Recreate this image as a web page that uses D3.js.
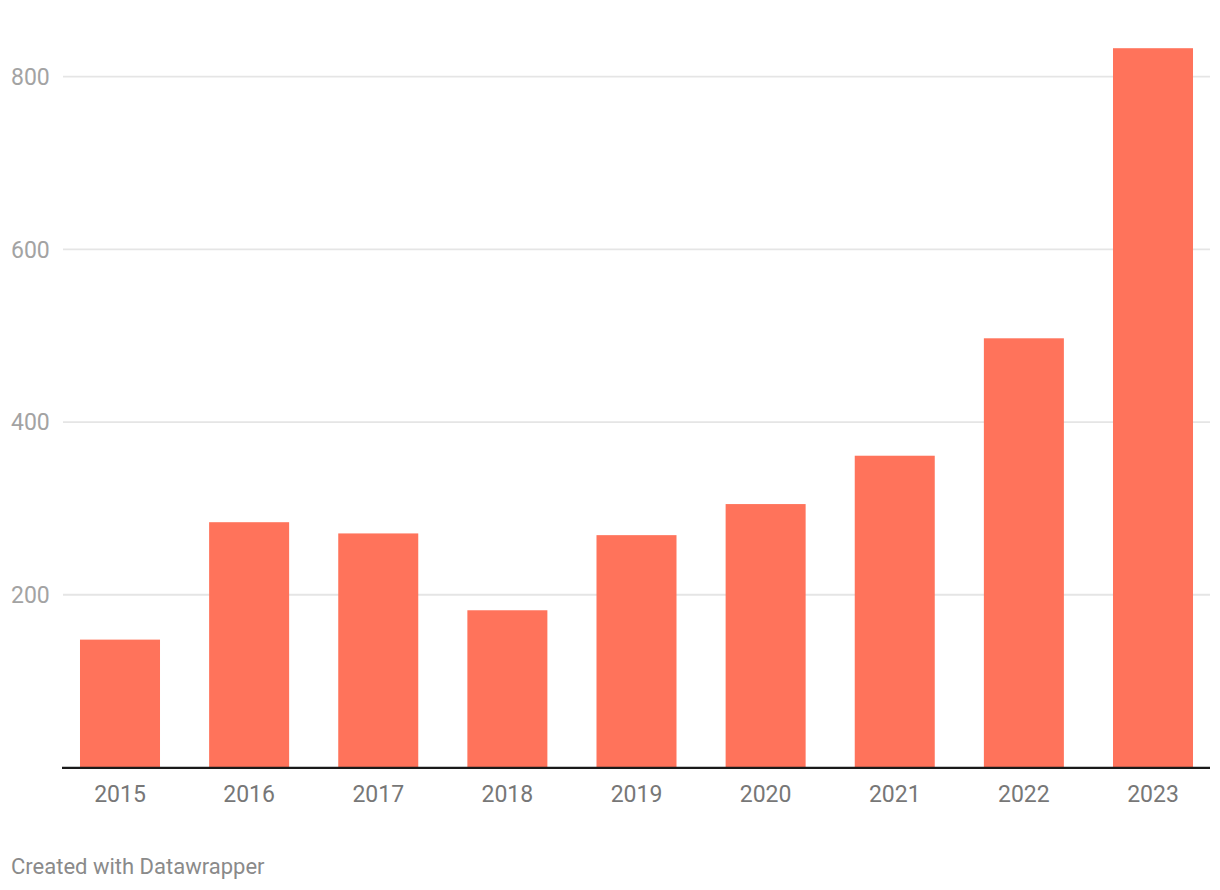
<!DOCTYPE html>
<html>
<head>
<meta charset="utf-8">
<script src="https://cdn.jsdelivr.net/npm/d3@7/dist/d3.min.js"></script>
<style>
  html, body { margin: 0; padding: 0; background: #fff; }
  svg { display: block; font-family: Roboto, "Noto Sans", sans-serif; }
</style>
</head>
<body>
<svg id="chart" width="1220" height="890"></svg>
<script>
const years = ["2015", "2016", "2017", "2018", "2019", "2020", "2021", "2022", "2023"];
const values = [148, 284, 271, 182, 269, 305, 361, 497, 833];
const yTicks = [200, 400, 600, 800];
const footer = "Created with Datawrapper";

const svg = d3.select("#chart");
const x = d3.scaleBand().domain(years).range([62.5, 1210.5]).paddingInner(0.3804).paddingOuter(0.1355);
const y = d3.scaleLinear().domain([0, 800]).range([767.4, 76.7]);

// gridlines
svg.append("g").selectAll("line").data(yTicks).join("line")
  .attr("x1", 63).attr("x2", 1210)
  .attr("y1", d => y(d)).attr("y2", d => y(d))
  .attr("stroke", "#e5e5e5").attr("stroke-width", 1.8);

// y labels
svg.append("g").selectAll("text").data(yTicks).join("text")
  .attr("x", 11).attr("y", d => y(d) + 8.3)
  .attr("font-size", 23).attr("fill", "#a3a3a3")
  .text(d => d3.format("d")(d));

// bars
svg.append("g").selectAll("rect").data(years).join("rect")
  .attr("x", d => x(d)).attr("width", x.bandwidth())
  .attr("y", (d, i) => y(values[i]))
  .attr("height", (d, i) => y(0) - y(values[i]))
  .attr("fill", "#ff735b");

// x axis
const xAxis = d3.axisBottom(x).tickSize(0).tickPadding(0);
const gx = svg.append("g").attr("transform", `translate(0, ${y(0)})`).call(xAxis);
gx.select(".domain").remove();
gx.append("line").attr("x1", 62).attr("x2", 1210).attr("y1", 0.4).attr("y2", 0.4)
  .attr("stroke", "#1a1a1a").attr("stroke-width", 2.2);
gx.selectAll(".tick text")
  .attr("y", 34.6).attr("dy", 0)
  .attr("font-size", 23).attr("fill", "#777")
  .attr("font-family", "Roboto, sans-serif");

// footer
svg.append("text").attr("x", 11).attr("y", 873.5)
  .attr("font-size", 22).attr("fill", "#8a8a8a")
  .text(footer);
</script>
</body>
</html>
